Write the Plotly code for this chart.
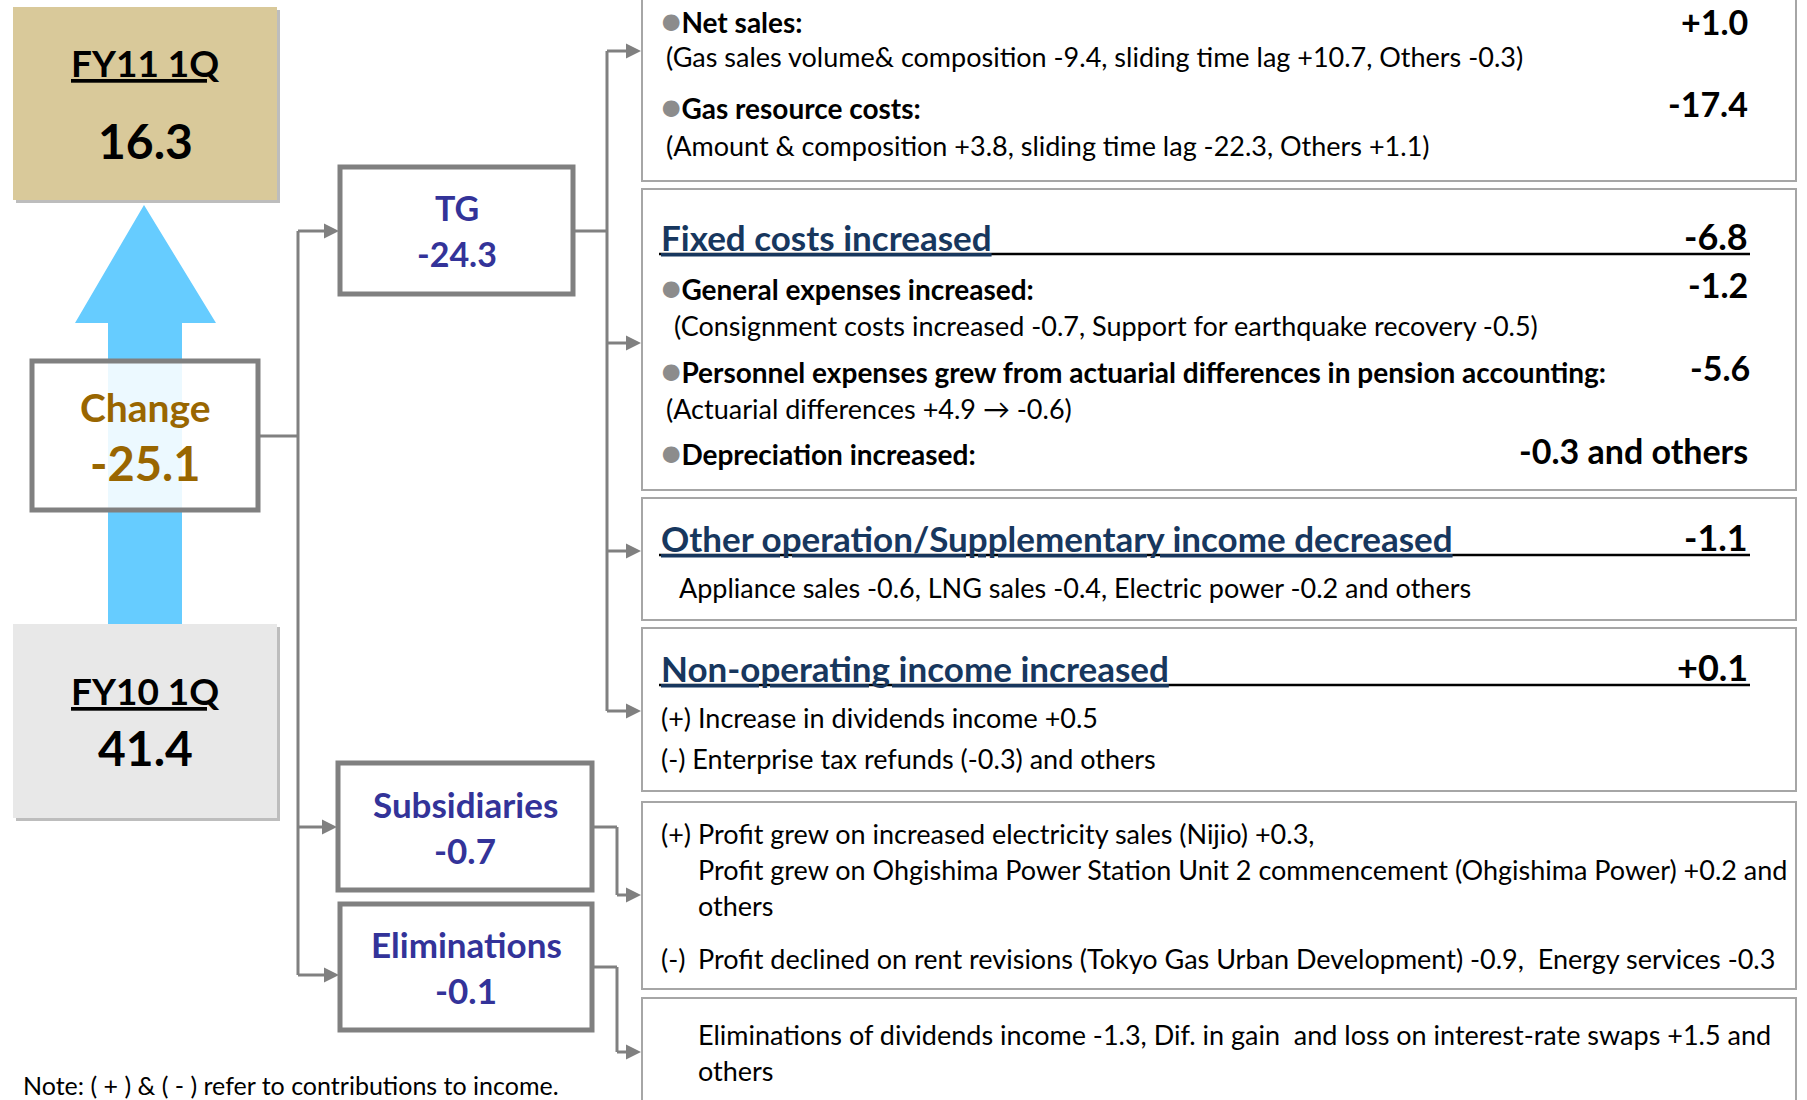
import plotly.graph_objects as go

# ---------------- data ----------------
base_label = "FY10 1Q"
base_value = 41.4
result_label = "FY11 1Q"
result_value = 16.3
change_label = "Change"
change_value = -25.1

segment_names = ["TG", "Subsidiaries", "Eliminations"]
segment_values = [-24.3, -0.7, -0.1]

# TG: variable-cost items
tg_items = ["Net sales:", "Gas resource costs:"]
tg_item_values = [1.0, -17.4]
tg_item_notes = [
    "(Gas sales volume& composition -9.4, sliding time lag +10.7, Others -0.3)",
    "(Amount & composition +3.8, sliding time lag -22.3, Others +1.1)",
]

# TG: group headings
group_titles = ["Fixed costs increased",
                "Other operation/Supplementary income decreased",
                "Non-operating income increased"]
group_values = [-6.8, -1.1, 0.1]

fixed_items = ["General expenses increased:",
               "Personnel expenses grew from actuarial differences in pension accounting:",
               "Depreciation increased:"]
fixed_item_values = ["-1.2", "-5.6", "-0.3 and others"]
fixed_item_notes = [
    "(Consignment costs increased -0.7, Support for earthquake recovery -0.5)",
    "(Actuarial differences +4.9 \u2192 -0.6)",
]

other_note = "Appliance sales -0.6, LNG sales -0.4, Electric power -0.2 and others"
nonop_notes = ["(+) Increase in dividends income +0.5",
               "(-) Enterprise tax refunds (-0.3) and others"]

subs_notes = ["(+) Profit grew on increased electricity sales (Nijio) +0.3,",
              "Profit grew on Ohgishima Power Station Unit 2 commencement (Ohgishima Power) +0.2 and",
              "others",
              "(-)",
              "Profit declined on rent revisions (Tokyo Gas Urban Development) -0.9,  Energy services -0.3"]
elim_notes = ["Eliminations of dividends income -1.3, Dif. in gain  and loss on interest-rate swaps +1.5 and",
              "others"]
footnote = "Note: ( + ) & ( - ) refer to contributions to income."

# ---------------- styles ----------------
FONT = "Lato"
GRAY = "#808080"
NAVY = "#17375E"
PURPLE = "#333399"
BROWN = "#996600"
W, H = 1807, 1100

fig = go.Figure()
fig.add_trace(go.Scatter(x=[0, W], y=[0, H], mode="markers",
                         marker=dict(opacity=0), hoverinfo="skip", showlegend=False))

shapes = []
annotations = []


def rect(x0, y0, x1, y1, fill="rgba(0,0,0,0)", line=GRAY, lw=2, layer="above"):
    shapes.append(dict(type="rect", x0=x0, y0=y0, x1=x1, y1=y1, xref="x", yref="y",
                       fillcolor=fill, line=dict(color=line, width=lw), layer=layer))


def line(x0, y0, x1, y1, color=GRAY, lw=3):
    shapes.append(dict(type="line", x0=x0, y0=y0, x1=x1, y1=y1, xref="x", yref="y",
                       line=dict(color=color, width=lw), layer="above"))


def head(xt, yt, size=15):
    p = f"M {xt} {yt} L {xt-size} {yt-size/2} L {xt-size} {yt+size/2} Z"
    shapes.append(dict(type="path", path=p, xref="x", yref="y", fillcolor=GRAY,
                       line=dict(color=GRAY, width=0), layer="above"))


def text(x, y, t, size=22, color="black", anchor="left", bold=False):
    if bold:
        t = f"<b>{t}</b>"
    annotations.append(dict(x=x, y=y, xref="x", yref="y", text=t, showarrow=False,
                            xanchor=anchor, yanchor="middle",
                            font=dict(family=FONT, size=size, color=color)))


def fmt(v):
    return f"{v:+.1f}" if v > 0 else f"{v:.1f}"


# ---------------- left side ----------------
# big blue arrow
shapes.append(dict(type="path", xref="x", yref="y",
                   path="M 108 624 L 108 323 L 75 323 L 144 205 L 216 323 L 182 323 L 182 624 Z",
                   fillcolor="#66CCFF", line=dict(width=0), layer="below"))

# FY11 box
rect(16, 10, 280, 203, fill="#BDBDBD", line="#BDBDBD", lw=0, layer="below")
rect(13, 7, 277, 200, fill="#D9C99A", line="#D9C99A", lw=0, layer="below")
text(145, 62, f"<u>{result_label}</u>", size=37, bold=True, anchor="center")
text(145, 140, f"{result_value:.1f}", size=48, bold=True, anchor="center")

# FY10 box
rect(16, 627, 280, 821, fill="#BDBDBD", line="#BDBDBD", lw=0, layer="below")
rect(13, 624, 277, 818, fill="#E8E8E8", line="#E8E8E8", lw=0, layer="below")
text(145, 690, f"<u>{base_label}</u>", size=37, bold=True, anchor="center")
text(145, 747, f"{base_value:.1f}", size=48, bold=True, anchor="center")

# Change box
rect(32, 361, 258, 510, fill="rgba(255,255,255,0.88)", line=GRAY, lw=5)
text(145, 407, change_label, size=39, color=BROWN, bold=True, anchor="center")
text(145, 463, fmt(change_value), size=47, color=BROWN, bold=True, anchor="center")

# connectors from change
line(258, 436, 298, 436)
line(298, 231, 298, 975)

seg_boxes = [(340, 167, 573, 294), (338, 763, 592, 890), (340, 904, 592, 1030)]
seg_arrow_y = [231, 827, 975]
seg_text_sizes = [34, 35, 35]
for name, val, (x0, y0, x1, y1), ay, fs in zip(segment_names, segment_values, seg_boxes,
                                                seg_arrow_y, seg_text_sizes):
    rect(x0, y0, x1, y1, fill="white", line=GRAY, lw=5)
    line(298, ay, x0 - 14, ay)
    head(x0 - 1, ay)
    cx = (x0 + x1) / 2
    cy = (y0 + y1) / 2
    text(cx, cy - 23, name, size=fs, color=PURPLE, bold=True, anchor="center")
    text(cx, cy + 23, fmt(val), size=fs, color=PURPLE, bold=True, anchor="center")

# TG -> right boxes
line(573, 231, 607, 231)
line(607, 51, 607, 711)
for ay in [51, 343, 551, 711]:
    line(607, ay, 627, ay)
    head(641, ay)

# Subsidiaries / Eliminations -> right boxes
line(592, 827, 617, 827)
line(617, 827, 617, 895)
line(617, 895, 627, 895)
head(641, 895)
line(592, 967, 617, 967)
line(617, 967, 617, 1052)
line(617, 1052, 627, 1052)
head(641, 1052)

text(21, 1085, footnote, size=25)

# ---------------- right boxes ----------------
RX0, RX1 = 642, 1796
LX = 659
RV = 1750
BOX_LINE = "#A6A6A6"
for y0, y1 in [(-5, 181), (189, 490), (498, 620), (628, 791), (802, 989), (998, 1110)]:
    rect(RX0, y0, RX1, y1, fill="rgba(0,0,0,0)", line=BOX_LINE, lw=2)

BUL = "<span style='color:#8C8C8C;font-size:34px'>\u25CF</span>"
BODY = 27
ITEM = 28
VAL = 34
TVAL = 36

# box 1 - variable items
text(LX, 19, BUL + f"<b>{tg_items[0]}</b>", size=ITEM)
text(RV, 21, fmt(tg_item_values[0]), size=VAL, bold=True, anchor="right")
text(LX + 5, 56, tg_item_notes[0], size=BODY)
text(LX, 105, BUL + f"<b>{tg_items[1]}</b>", size=ITEM)
text(RV, 103, fmt(tg_item_values[1]), size=VAL, bold=True, anchor="right")
text(LX + 5, 145, tg_item_notes[1], size=BODY)

# group titles with underline
title_y = [237, 538, 668]
for t, v, ty in zip(group_titles, group_values, title_y):
    line(LX, ty + 17, RV, ty + 17, color="black", lw=2.5)
    text(LX, ty, f"<u>{t}</u>", size=35, color=NAVY, bold=True)
    text(RV, ty - 1, fmt(v), size=TVAL, bold=True, anchor="right")

# box 2 details
text(LX, 286, BUL + f"<b>{fixed_items[0]}</b>", size=ITEM)
text(RV, 284, fixed_item_values[0], size=VAL, bold=True, anchor="right")
text(LX + 13, 325, fixed_item_notes[0], size=BODY)
text(LX, 369, BUL + f"<b>{fixed_items[1]}</b>", size=ITEM)
text(RV + 2, 367, fixed_item_values[1], size=VAL, bold=True, anchor="right")
text(LX + 5, 408, fixed_item_notes[1], size=BODY)
text(LX, 451, BUL + f"<b>{fixed_items[2]}</b>", size=ITEM)
text(RV, 450, fixed_item_values[2], size=VAL, bold=True, anchor="right")

# box 3
text(LX + 18, 587, other_note, size=BODY)

# box 4
text(LX, 717, nonop_notes[0], size=BODY)
text(LX, 758, nonop_notes[1], size=BODY)

# box 5
text(LX, 833, subs_notes[0], size=BODY)
text(696, 869, subs_notes[1], size=BODY)
text(696, 905, subs_notes[2], size=BODY)
text(LX, 958, subs_notes[3], size=BODY)
text(696, 958, subs_notes[4], size=BODY)

# box 6
text(696, 1034, elim_notes[0], size=BODY)
text(696, 1070, elim_notes[1], size=BODY)

fig.update_layout(
    width=W, height=H,
    margin=dict(l=0, r=0, t=0, b=0),
    paper_bgcolor="white", plot_bgcolor="white",
    xaxis=dict(range=[0, W], visible=False, fixedrange=True),
    yaxis=dict(range=[H, 0], visible=False, fixedrange=True),
    shapes=shapes, annotations=annotations,
    showlegend=False,
)

fig.write_html("out.html", config={"displayModeBar": False},
               post_script="document.body.style.margin='0';document.body.style.overflow='hidden';")
